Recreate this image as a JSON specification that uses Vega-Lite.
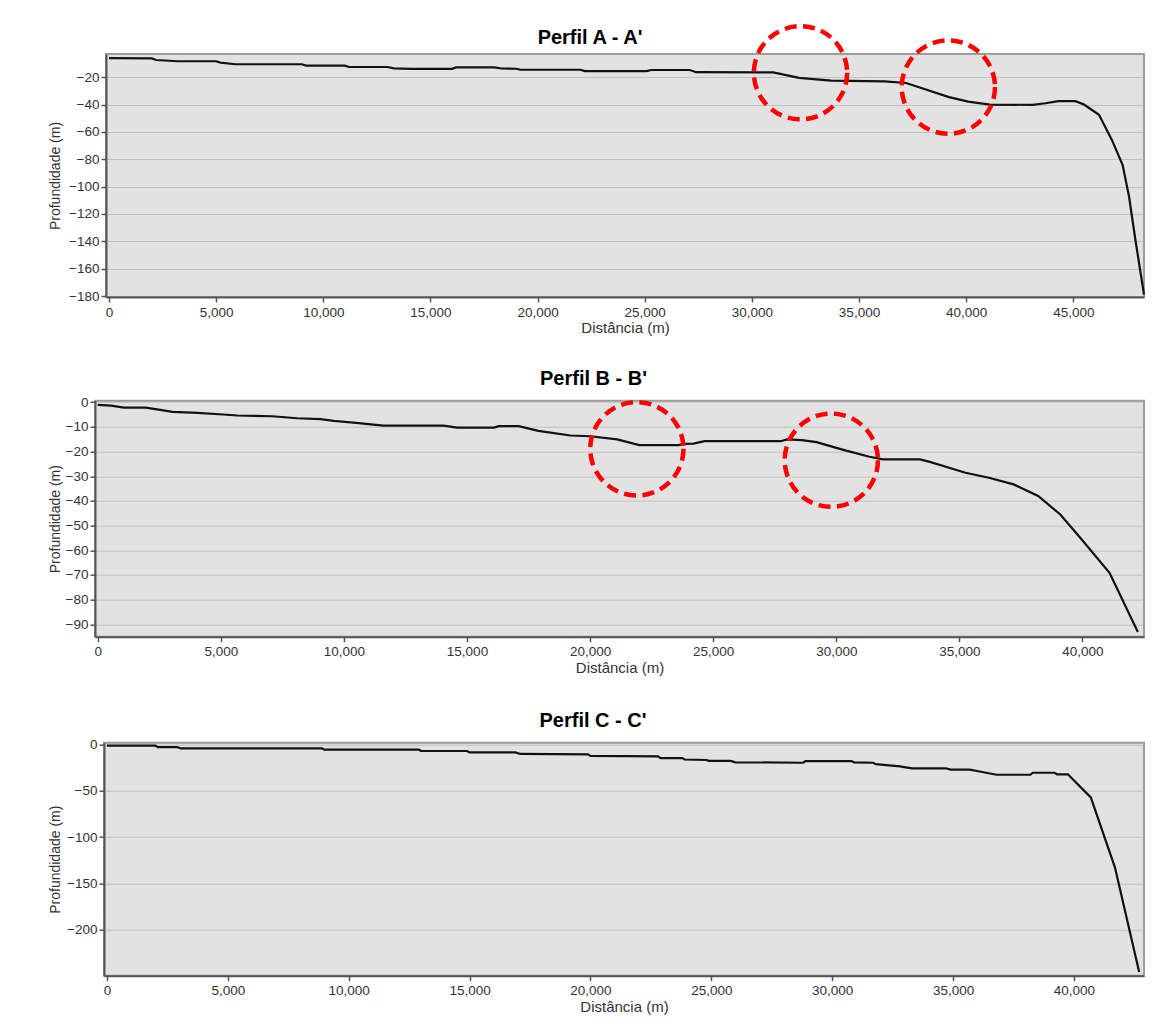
{
  "$schema": "https://vega.github.io/schema/vega-lite/v6.json",
  "background": "white",
  "padding": {"top": 16, "left": 46, "right": 27, "bottom": 5},
  "datasets": {
    "A": [
      {"dist": 0, "prof": -6.0}, {"dist": 2000, "prof": -6.2}, {"dist": 2200, "prof": -7.4}, {"dist": 3200, "prof": -8.3},
      {"dist": 5000, "prof": -8.3}, {"dist": 5200, "prof": -9.3}, {"dist": 5900, "prof": -10.5}, {"dist": 9000, "prof": -10.5},
      {"dist": 9200, "prof": -11.5}, {"dist": 11000, "prof": -11.5}, {"dist": 11200, "prof": -12.5}, {"dist": 13000, "prof": -12.5},
      {"dist": 13300, "prof": -13.5}, {"dist": 14100, "prof": -13.9}, {"dist": 16000, "prof": -13.9}, {"dist": 16200, "prof": -12.8},
      {"dist": 18000, "prof": -12.8}, {"dist": 18300, "prof": -13.6}, {"dist": 19000, "prof": -13.8}, {"dist": 19200, "prof": -14.5},
      {"dist": 22000, "prof": -14.5}, {"dist": 22200, "prof": -15.5}, {"dist": 25100, "prof": -15.5}, {"dist": 25300, "prof": -14.7},
      {"dist": 27100, "prof": -14.7}, {"dist": 27400, "prof": -16.3}, {"dist": 31000, "prof": -16.4}, {"dist": 32200, "prof": -20.5},
      {"dist": 33700, "prof": -22.5}, {"dist": 36200, "prof": -23.0}, {"dist": 37200, "prof": -24.2}, {"dist": 37800, "prof": -27.3},
      {"dist": 39200, "prof": -34.5}, {"dist": 40100, "prof": -37.8}, {"dist": 41100, "prof": -40.0}, {"dist": 43100, "prof": -40.2},
      {"dist": 43700, "prof": -39.0}, {"dist": 44300, "prof": -37.5}, {"dist": 45100, "prof": -37.5}, {"dist": 45500, "prof": -40.0},
      {"dist": 46200, "prof": -47.5}, {"dist": 46800, "prof": -65.8}, {"dist": 47300, "prof": -84.0}, {"dist": 47600, "prof": -107.0},
      {"dist": 47900, "prof": -139.0}, {"dist": 48300, "prof": -179.0}
    ],
    "B": [
      {"dist": 0, "prof": -1.1}, {"dist": 540, "prof": -1.4}, {"dist": 1070, "prof": -2.2}, {"dist": 1960, "prof": -2.2},
      {"dist": 2600, "prof": -3.2}, {"dist": 3040, "prof": -3.9}, {"dist": 4050, "prof": -4.3}, {"dist": 5100, "prof": -5.0},
      {"dist": 5670, "prof": -5.4}, {"dist": 7090, "prof": -5.7}, {"dist": 8100, "prof": -6.5}, {"dist": 9050, "prof": -6.9},
      {"dist": 9590, "prof": -7.6}, {"dist": 10500, "prof": -8.4}, {"dist": 11600, "prof": -9.5}, {"dist": 14050, "prof": -9.5},
      {"dist": 14600, "prof": -10.3}, {"dist": 16100, "prof": -10.3}, {"dist": 16300, "prof": -9.7}, {"dist": 17100, "prof": -9.7},
      {"dist": 17900, "prof": -11.6}, {"dist": 19200, "prof": -13.5}, {"dist": 20000, "prof": -13.8}, {"dist": 21100, "prof": -15.1},
      {"dist": 22000, "prof": -17.4}, {"dist": 23600, "prof": -17.4}, {"dist": 23800, "prof": -16.9}, {"dist": 24200, "prof": -16.8},
      {"dist": 24650, "prof": -15.8}, {"dist": 27750, "prof": -15.8}, {"dist": 28000, "prof": -15.1}, {"dist": 28600, "prof": -15.4},
      {"dist": 29200, "prof": -16.2}, {"dist": 30250, "prof": -19.2}, {"dist": 31350, "prof": -22.1}, {"dist": 31900, "prof": -23.2},
      {"dist": 33400, "prof": -23.2}, {"dist": 33800, "prof": -24.2}, {"dist": 35250, "prof": -28.6}, {"dist": 36200, "prof": -30.6},
      {"dist": 37200, "prof": -33.3}, {"dist": 38200, "prof": -38.0}, {"dist": 39100, "prof": -45.5}, {"dist": 39850, "prof": -54.2},
      {"dist": 41100, "prof": -69.1}, {"dist": 42250, "prof": -93.1}
    ],
    "C": [
      {"dist": 0, "prof": -1.0}, {"dist": 2000, "prof": -1.0}, {"dist": 2100, "prof": -2.5}, {"dist": 2900, "prof": -2.5},
      {"dist": 3060, "prof": -4.0}, {"dist": 8900, "prof": -4.0}, {"dist": 9000, "prof": -5.4}, {"dist": 12900, "prof": -5.4},
      {"dist": 13000, "prof": -6.8}, {"dist": 14900, "prof": -6.8}, {"dist": 15000, "prof": -8.3}, {"dist": 16900, "prof": -8.3},
      {"dist": 17100, "prof": -10.0}, {"dist": 19900, "prof": -10.4}, {"dist": 20000, "prof": -12.0}, {"dist": 22800, "prof": -12.5},
      {"dist": 22900, "prof": -14.5}, {"dist": 23800, "prof": -14.5}, {"dist": 23900, "prof": -16.0}, {"dist": 24800, "prof": -16.5},
      {"dist": 24900, "prof": -17.5}, {"dist": 25800, "prof": -17.5}, {"dist": 26000, "prof": -19.0}, {"dist": 28800, "prof": -19.5},
      {"dist": 28900, "prof": -17.7}, {"dist": 30800, "prof": -17.7}, {"dist": 30900, "prof": -19.0}, {"dist": 31700, "prof": -19.5},
      {"dist": 31800, "prof": -21.0}, {"dist": 32800, "prof": -23.5}, {"dist": 33300, "prof": -25.5}, {"dist": 34700, "prof": -25.5},
      {"dist": 34900, "prof": -27.0}, {"dist": 35700, "prof": -27.0}, {"dist": 36100, "prof": -29.0}, {"dist": 36800, "prof": -32.5},
      {"dist": 38200, "prof": -32.5}, {"dist": 38300, "prof": -30.3}, {"dist": 39200, "prof": -30.3}, {"dist": 39300, "prof": -32.0},
      {"dist": 39750, "prof": -32.0}, {"dist": 40700, "prof": -57.0}, {"dist": 41700, "prof": -133.0}, {"dist": 42700, "prof": -246.0}
    ],
    "circA": [{"dist": 32270, "prof": -16.7}, {"dist": 39170, "prof": -27.2}],
    "circB": [{"dist": 21900, "prof": -18.9}, {"dist": 29800, "prof": -23.5}],
    "none": []
  },
  "config": {
    "font": "Liberation Sans",
    "view": {"fill": "#e2e2e2", "stroke": "#9c9c9c", "strokeWidth": 2},
    "axis": {
      "labelFont": "Liberation Sans", "labelFontSize": 13.5, "labelColor": "#333333", "labelOverlap": false,
      "titleFont": "Liberation Sans", "titleFontWeight": "normal", "titleColor": "#333333",
      "domainColor": "#555555", "domainWidth": 2, "tickColor": "#555555", "tickWidth": 1.5, "tickSize": 5,
      "gridColor": "#a0a0a0", "gridDash": [1, 1], "gridWidth": 1
    },
    "axisX": {"grid": false, "labelPadding": 3, "titlePadding": 2, "titleFontSize": 15},
    "axisY": {"labelPadding": 2, "titleFontSize": 14},
    "title": {"font": "Liberation Sans", "fontSize": 20, "fontWeight": "bold", "color": "#000000", "anchor": "middle"}
  },
  "vconcat": [
    {
      "vconcat": [
        {
          "hconcat": [
            {"width": 1, "height": 1, "view": {"fill": null, "stroke": null}, "data": {"name": "none"}, "mark": "point"},
            {
              "title": {"text": "Perfil A - A'", "offset": -31, "dx": -35},
              "width": 1038, "height": 243,
              "layer": [
                {
                  "data": {"name": "A"},
                  "mark": {"type": "line", "color": "#111111", "strokeWidth": 2.2},
                  "encoding": {
                    "x": {"field": "dist", "type": "quantitative", "title": "Distância (m)",
                          "scale": {"domain": [-140, 48300], "nice": false, "zero": false},
                          "axis": {"values": [0, 5000, 10000, 15000, 20000, 25000, 30000, 35000, 40000, 45000], "format": ",.0f", "tickCount": 30}},
                    "y": {"field": "prof", "type": "quantitative", "title": "Profundidade (m)",
                          "scale": {"domain": [-180.7, -3], "nice": false, "zero": false},
                          "axis": {"values": [-20, -40, -60, -80, -100, -120, -140, -160, -180], "tickCount": 30, "titlePadding": 6}}
                  }
                },
                {
                  "data": {"name": "circA"},
                  "mark": {"type": "point", "shape": "circle", "size": 8700, "filled": false, "color": "#ff0000", "strokeWidth": 4.5, "strokeDash": [12, 6.5], "opacity": 1},
                  "encoding": {
                    "x": {"field": "dist", "type": "quantitative"},
                    "y": {"field": "prof", "type": "quantitative"}
                  }
                }
              ]
            }
          ],
          "spacing": 0
        },
        {
          "hconcat": [
            {"width": 1, "height": 1, "view": {"fill": null, "stroke": null}, "data": {"name": "none"}, "mark": "point"},
            {
              "title": {"text": "Perfil B - B'", "offset": 4.5, "dx": -26},
              "width": 1049, "height": 236,
              "layer": [
                {
                  "data": {"name": "B"},
                  "mark": {"type": "line", "color": "#111111", "strokeWidth": 2.2},
                  "encoding": {
                    "x": {"field": "dist", "type": "quantitative", "title": "Distância (m)",
                          "scale": {"domain": [-110, 42500], "nice": false, "zero": false},
                          "axis": {"values": [0, 5000, 10000, 15000, 20000, 25000, 30000, 35000, 40000], "format": ",.0f", "tickCount": 30}},
                    "y": {"field": "prof", "type": "quantitative", "title": "Profundidade (m)",
                          "scale": {"domain": [-95, 0.6], "nice": false, "zero": false},
                          "axis": {"values": [0, -10, -20, -30, -40, -50, -60, -70, -80, -90], "tickCount": 30, "titlePadding": 2.5}}
                  }
                },
                {
                  "data": {"name": "circB"},
                  "mark": {"type": "point", "shape": "circle", "size": 8700, "filled": false, "color": "#ff0000", "strokeWidth": 4.5, "strokeDash": [12, 6.5], "opacity": 1},
                  "encoding": {
                    "x": {"field": "dist", "type": "quantitative"},
                    "y": {"field": "prof", "type": "quantitative"}
                  }
                }
              ]
            }
          ],
          "spacing": 0
        }
      ],
      "spacing": 30.7
    },
    {
      "hconcat": [
        {"width": 1, "height": 1, "view": {"fill": null, "stroke": null}, "data": {"name": "none"}, "mark": "point"},
        {
          "title": {"text": "Perfil C - C'", "offset": 7, "dx": -31},
          "width": 1040, "height": 233,
          "data": {"name": "C"},
          "mark": {"type": "line", "color": "#111111", "strokeWidth": 2.2},
          "encoding": {
            "x": {"field": "dist", "type": "quantitative", "title": "Distância (m)",
                  "scale": {"domain": [-120, 42900], "nice": false, "zero": false},
                  "axis": {"values": [0, 5000, 10000, 15000, 20000, 25000, 30000, 35000, 40000], "format": ",.0f", "tickCount": 30}},
            "y": {"field": "prof", "type": "quantitative", "title": "Profundidade (m)",
                  "scale": {"domain": [-250, 2.2], "nice": false, "zero": false},
                  "axis": {"values": [0, -50, -100, -150, -200], "tickCount": 30, "titlePadding": 4}}
          }
        }
      ],
      "spacing": 0
    }
  ],
  "spacing": 32.7
}
